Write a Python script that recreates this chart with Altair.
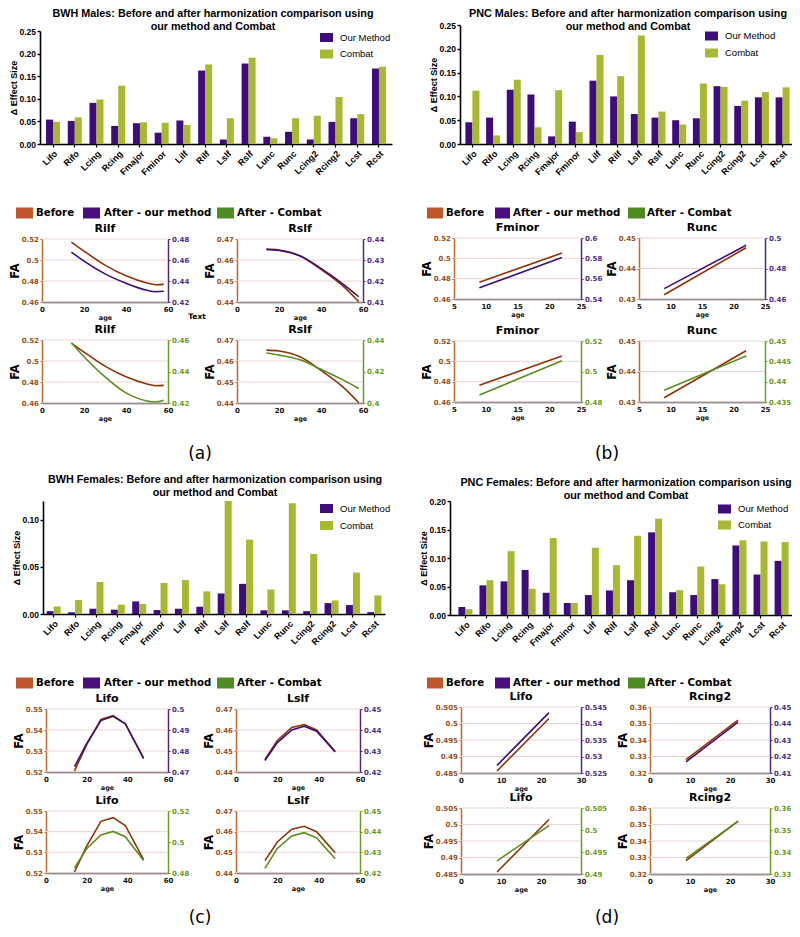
import altair as alt
import pandas as pd

# ---------------- data ----------------
TRACTS = ["Lifo", "Rifo", "Lcing", "Rcing", "Fmajor", "Fminor", "Lilf", "Rilf",
          "Lslf", "Rslf", "Lunc", "Runc", "Lcing2", "Rcing2", "Lcst", "Rcst"]

A_OUR = [0.054, 0.051, 0.091, 0.040, 0.046, 0.025, 0.052, 0.1625, 0.010, 0.178, 0.016, 0.027, 0.010, 0.049, 0.057, 0.167]
A_COMBAT = [0.049, 0.059, 0.0985, 0.129, 0.048, 0.047, 0.042, 0.176, 0.057, 0.191, 0.0125, 0.057, 0.0625, 0.104, 0.066, 0.171]
B_OUR = [0.0456, 0.0555, 0.114, 0.104, 0.016, 0.047, 0.133, 0.100, 0.063, 0.0555, 0.050, 0.054, 0.1215, 0.080, 0.098, 0.098]
B_COMBAT = [0.112, 0.018, 0.135, 0.035, 0.113, 0.025, 0.187, 0.1425, 0.228, 0.068, 0.041, 0.127, 0.120, 0.091, 0.109, 0.119]
C_OUR = [0.003, 0.0018, 0.0056, 0.0046, 0.0134, 0.0042, 0.0056, 0.0077, 0.0218, 0.032, 0.0039, 0.0039, 0.003, 0.0116, 0.0095, 0.002]
C_COMBAT = [0.008, 0.0148, 0.034, 0.010, 0.0106, 0.033, 0.036, 0.024, 0.120, 0.079, 0.026, 0.1176, 0.0637, 0.0144, 0.044, 0.0197]
D_OUR = [0.014, 0.052, 0.059, 0.079, 0.039, 0.021, 0.035, 0.043, 0.061, 0.145, 0.040, 0.035, 0.063, 0.122, 0.071, 0.095]
D_COMBAT = [0.010, 0.061, 0.112, 0.046, 0.135, 0.021, 0.118, 0.0876, 0.139, 0.169, 0.0435, 0.085, 0.054, 0.131, 0.129, 0.128]

BAR_TICKS_25 = [0.0, 0.05, 0.10, 0.15, 0.20, 0.25]
BAR_TICKS_12 = [0.0, 0.05, 0.10]
BAR_TICKS_20 = [0.0, 0.05, 0.10, 0.15, 0.20]

# (a) BWH males fitted trajectories
AGE_A_RILF = [14, 20, 30, 40, 50, 54, 58]
RILF_BEFORE = [0.5171, 0.5085, 0.4951, 0.4849, 0.4781, 0.4765, 0.4768]
RILF_OUR = [0.4676, 0.4589, 0.4468, 0.4379, 0.4312, 0.4298, 0.4302]
RILF_COMBAT = [0.4583, 0.4494, 0.4366, 0.4264, 0.4213, 0.4206, 0.4217]
AGE_A_RSLF = [14, 20, 30, 40, 50, 58]
RSLF_BEFORE = [0.4652, 0.4648, 0.4620, 0.4555, 0.4480, 0.4401]
RSLF_OUR = [0.4350, 0.4345, 0.4319, 0.4260, 0.4189, 0.4125]
RSLF_COMBAT = [0.4317, 0.4304, 0.4274, 0.4214, 0.4150, 0.4092]

# (b) PNC males
AGE_PNC = [9, 22]
FMINOR_BEFORE = [0.4765, 0.5052]
FMINOR_OUR = [0.5511, 0.5807]
FMINOR_COMBAT = [0.4846, 0.5070]
RUNC_BEFORE = [0.4314, 0.4468]
RUNC_OUR = [0.4668, 0.4952]
RUNC_COMBAT = [0.4379, 0.4463]

# (c) BWH females
AGE_C = [14, 20, 27, 33, 39, 48]
LIFO_C_BEFORE = [0.5205, 0.5330, 0.5450, 0.5468, 0.5430, 0.5265]
LIFO_C_OUR = [0.4725, 0.4835, 0.4945, 0.4965, 0.4930, 0.4765]
LIFO_C_COMBAT = [0.4832, 0.4957, 0.5045, 0.5068, 0.5034, 0.4881]
LSLF_C_BEFORE = [0.4460, 0.4550, 0.4612, 0.4626, 0.4600, 0.4498]
LSLF_C_OUR = [0.4255, 0.4340, 0.4400, 0.4418, 0.4394, 0.4296]
LSLF_C_COMBAT = [0.4222, 0.4319, 0.4379, 0.4395, 0.4370, 0.4269]

# (d) PNC females
LIFO_D_BEFORE = [0.4856, 0.5015]
LIFO_D_OUR = [0.5273, 0.5433]
LIFO_D_COMBAT = [0.4930, 0.5010]
RCING2_BEFORE = [0.3281, 0.3521]
RCING2_OUR = [0.4167, 0.4409]
RCING2_COMBAT = [0.3371, 0.3539]

# ---------------- style ----------------
W, H = 784, 921
OUR_BAR = "#3F0C7C"
COMBAT_BAR = "#A9B832"
BROWN_LINE = "#8E3308"
PURPLE_LINE = "#3C0F70"
GREEN_LINE = "#5C8C20"
SW_BEFORE = "#C1552B"
SW_OUR = "#4A0E7E"
SW_COMBAT = "#4F8B23"
L_AXIS = "#C0692F"
L_LABEL = "#9A4F1A"
P_AXIS = "#4B2A80"
P_LABEL = "#512E7D"
G_AXIS = "#6B9B2A"
G_LABEL = "#6B9A22"
GRID = "#EBD3D3"
BAR_FONT = "Liberation Sans"
LINE_FONT = "DejaVu Sans"
NUM_LABEL = "format(datum.value, '~r')"

DUMMY = pd.DataFrame({"d": [0]})


def X(x):
    return x - 8


def Y(y):
    return y - 8


layers = []


def text(s, x, y, size=10, weight="bold", font=LINE_FONT, color="black", align="center", angle=0):
    layers.append(
        alt.Chart(DUMMY).mark_text(text=s, fontSize=size, fontWeight=weight, font=font, color=color,
                                   align=align, baseline="middle", angle=angle)
        .encode(x=alt.value(X(x)), y=alt.value(Y(y)))
    )


def rect(x0, x1, y0, y1, color):
    layers.append(
        alt.Chart(DUMMY).mark_rect(color=color)
        .encode(x=alt.value(X(x0)), x2=alt.value(X(x1)), y=alt.value(Y(y0)), y2=alt.value(Y(y1)))
    )


def bar_panel(title1, title2, tx, ty, our, comb, ymax, yticks, x0, x1, ytop, ybase, pad, lx, ly1, ly2):
    df = pd.DataFrame({"cat": TRACTS, "our": our, "comb": comb})
    xs = alt.Scale(domain=TRACTS, range=[X(x0), X(x1)], paddingInner=0, paddingOuter=pad)
    ys = alt.Scale(domain=[0, ymax], range=[Y(ybase), Y(ytop)], nice=False, zero=True)
    xaxis = alt.Axis(orient="bottom", offset=Y(ybase) - H, labelAngle=315, labelAlign="right",
                     labelBaseline="top", labelFont=BAR_FONT, labelFontWeight="bold", labelFontSize=9,
                     labelColor="black", domainColor="black", domainWidth=1.6, tickColor="black",
                     tickSize=3, tickWidth=1.2, labelPadding=2, title=None, grid=False, labelOverlap=False)
    yaxis = alt.Axis(orient="left", offset=-X(x0), values=yticks, format=".2f", labelFont=BAR_FONT,
                     labelFontWeight="bold", labelFontSize=8.5, labelColor="black", domainColor="black",
                     domainWidth=1.6, tickColor="black", tickSize=3, tickWidth=1.4, labelPadding=1.5,
                     title="\u0394 Effect Size", titleFont=BAR_FONT, titleFontWeight="bold", titleFontSize=9,
                     titleColor="black", titlePadding=0, grid=False, labelFlush=False)
    layers.append(
        alt.Chart(df).mark_bar(width=7, xOffset=-3.5, color=OUR_BAR).encode(
            x=alt.X("cat:N", scale=xs, sort=None, axis=xaxis),
            y=alt.Y("our:Q", scale=ys, axis=yaxis))
    )
    layers.append(
        alt.Chart(df).mark_bar(width=7, xOffset=3.5, color=COMBAT_BAR).encode(
            x=alt.X("cat:N", scale=xs, sort=None, axis=None),
            y=alt.Y("comb:Q", scale=ys, axis=None))
    )
    text(title1, tx, ty, size=10.8, font=BAR_FONT)
    text(title2, tx, ty + 12.7, size=10.8, font=BAR_FONT)
    rect(lx, lx + 13, ly1 - 4.5, ly1 + 4.5, OUR_BAR)
    rect(lx, lx + 13, ly2 - 4.5, ly2 + 4.5, COMBAT_BAR)
    text("Our Method", lx + 20, ly1, size=9.5, weight="normal", font=BAR_FONT, align="left")
    text("Combat", lx + 20, ly2, size=9.5, weight="normal", font=BAR_FONT, align="left")


def line_plot(ages, before, after, kind, x0, x1, ytop, ybot, xdom, xticks, ldom, lticks, rdom, rticks,
              title, interp):
    xs = alt.Scale(domain=xdom, range=[X(x0), X(x1)], nice=False, zero=False)
    ls = alt.Scale(domain=ldom, range=[Y(ybot), Y(ytop)], nice=False, zero=False)
    rs = alt.Scale(domain=rdom, range=[Y(ybot), Y(ytop)], nice=False, zero=False)
    if kind == "our":
        acol, aaxis, alab = PURPLE_LINE, P_AXIS, P_LABEL
    else:
        acol, aaxis, alab = GREEN_LINE, G_AXIS, G_LABEL
    layers.append(
        alt.Chart(pd.DataFrame({"v": lticks})).mark_rule(color=GRID, strokeWidth=1).encode(
            y=alt.Y("v:Q", scale=ls, axis=None), x=alt.value(X(x0)), x2=alt.value(X(x1)))
    )
    xaxis = alt.Axis(orient="bottom", offset=Y(ybot) - H, values=xticks, labelExpr=NUM_LABEL,
                     labelFont=LINE_FONT, labelFontWeight="bold", labelFontSize=7, labelColor="#111",
                     domainColor="#444", domainWidth=1.5, ticks=False, labelPadding=3, labelFlush=False,
                     labelOverlap=False, title="age", titleFont=LINE_FONT, titleFontWeight="bold",
                     titleFontSize=6.5, titleColor="#111", titlePadding=2, grid=False)
    laxis = alt.Axis(orient="left", offset=-X(x0), values=lticks, labelExpr=NUM_LABEL, labelFont=LINE_FONT,
                     labelFontWeight="bold", labelFontSize=7, labelColor=L_LABEL, domainColor=L_AXIS,
                     domainWidth=1.5, tickColor=L_AXIS, tickSize=2, labelPadding=1.5, labelFlush=False,
                     labelOverlap=False, title="FA", titleFont=LINE_FONT, titleFontWeight="bold",
                     titleFontSize=11.5, titleColor="black", titlePadding=1, grid=False)
    raxis = alt.Axis(orient="right", offset=X(x1) - W, values=rticks, labelExpr=NUM_LABEL,
                     labelFont=LINE_FONT, labelFontWeight="bold", labelFontSize=7, labelColor=alab,
                     domainColor=aaxis, domainWidth=1.5, tickColor=aaxis, tickSize=2, labelPadding=1.5,
                     labelFlush=False, labelOverlap=False, title=None, grid=False)
    layers.append(
        alt.Chart(pd.DataFrame({"age": ages, "v": before})).mark_line(
            color=BROWN_LINE, strokeWidth=1.6, interpolate=interp).encode(
            x=alt.X("age:Q", scale=xs, axis=xaxis), y=alt.Y("v:Q", scale=ls, axis=laxis))
    )
    layers.append(
        alt.Chart(pd.DataFrame({"age": ages, "v": after})).mark_line(
            color=acol, strokeWidth=1.6, interpolate=interp).encode(
            x=alt.X("age:Q", scale=xs, axis=None), y=alt.Y("v:Q", scale=rs, axis=raxis))
    )
    text(title, (x0 + x1) / 2, ytop - 10, size=11)


def line_legend(xs_sw, xs_txt, y):
    cols = [SW_BEFORE, SW_OUR, SW_COMBAT]
    labels = ["Before", "After - our method", "After - Combat"]
    for (a, b), c in zip(xs_sw, cols):
        rect(a, b, y - 5.5, y + 5.5, c)
    for tx, lab in zip(xs_txt, labels):
        text(lab, tx, y, size=10.2, align="left")


# ---------------- panel (a) ----------------
bar_panel("BWH Males: Before and after harmonization comparison using", "our method and Combat",
          213, 14, A_OUR, A_COMBAT, 0.25, BAR_TICKS_25, 40, 392, 31, 144, 0.1, 320, 37.5, 54)
line_legend([(16, 33), (83, 100), (217, 234)], [36, 104, 237], 213)
line_plot(AGE_A_RILF, RILF_BEFORE, RILF_OUR, "our", 42, 168, 239, 302, [0, 60], [0, 20, 40, 60],
          [0.46, 0.52], [0.46, 0.48, 0.5, 0.52], [0.42, 0.48], [0.42, 0.44, 0.46, 0.48], "Rilf", "monotone")
line_plot(AGE_A_RSLF, RSLF_BEFORE, RSLF_OUR, "our", 237, 363, 239, 302, [0, 60], [0, 20, 40, 60],
          [0.44, 0.47], [0.44, 0.45, 0.46, 0.47], [0.41, 0.44], [0.41, 0.42, 0.43, 0.44], "Rslf", "monotone")
line_plot(AGE_A_RILF, RILF_BEFORE, RILF_COMBAT, "combat", 42, 168, 340, 403, [0, 60], [0, 20, 40, 60],
          [0.46, 0.52], [0.46, 0.48, 0.5, 0.52], [0.42, 0.46], [0.42, 0.44, 0.46], "Rilf", "monotone")
line_plot(AGE_A_RSLF, RSLF_BEFORE, RSLF_COMBAT, "combat", 237, 363, 340, 403, [0, 60], [0, 20, 40, 60],
          [0.44, 0.47], [0.44, 0.45, 0.46, 0.47], [0.40, 0.44], [0.4, 0.42, 0.44], "Rslf", "monotone")
text("Text", 197, 317, size=7.5)
text("(a)", 200, 454, size=17, weight="normal")

# ---------------- panel (b) ----------------
bar_panel("PNC Males: Before and after harmonization comparison using", "our method and Combat",
          628, 14, B_OUR, B_COMBAT, 0.25, BAR_TICKS_25, 460, 795, 25, 144, 0.1, 705, 36, 53)
line_legend([(427, 443), (495, 510), (628, 645)], [446, 513, 647], 213)
line_plot(AGE_PNC, FMINOR_BEFORE, FMINOR_OUR, "our", 454, 581, 238, 299, [5, 25], [5, 10, 15, 20, 25],
          [0.46, 0.52], [0.46, 0.48, 0.5, 0.52], [0.54, 0.60], [0.54, 0.56, 0.58, 0.6], "Fminor", "linear")
line_plot(AGE_PNC, RUNC_BEFORE, RUNC_OUR, "our", 639, 765, 238, 299, [5, 25], [5, 10, 15, 20, 25],
          [0.43, 0.45], [0.43, 0.44, 0.45], [0.46, 0.50], [0.46, 0.48, 0.5], "Runc", "linear")
line_plot(AGE_PNC, FMINOR_BEFORE, FMINOR_COMBAT, "combat", 454, 581, 341, 402, [5, 25], [5, 10, 15, 20, 25],
          [0.46, 0.52], [0.46, 0.48, 0.5, 0.52], [0.48, 0.52], [0.48, 0.5, 0.52], "Fminor", "linear")
line_plot(AGE_PNC, RUNC_BEFORE, RUNC_COMBAT, "combat", 639, 765, 341, 402, [5, 25], [5, 10, 15, 20, 25],
          [0.43, 0.45], [0.43, 0.44, 0.45], [0.435, 0.45], [0.435, 0.44, 0.445, 0.45], "Runc", "linear")
text("(b)", 607, 454, size=17, weight="normal")

# ---------------- panel (c) ----------------
bar_panel("BWH Females: Before and after harmonization comparison using", "our method and Combat",
          215, 480, C_OUR, C_COMBAT, 0.12, BAR_TICKS_12, 43, 385, 501, 614, 0.0, 320, 508.5, 525.5)
line_legend([(16, 33), (83, 100), (217, 234)], [36, 104, 237], 683)
line_plot(AGE_C, LIFO_C_BEFORE, LIFO_C_OUR, "our", 46, 168, 709, 772, [0, 60], [0, 20, 40, 60],
          [0.52, 0.55], [0.52, 0.53, 0.54, 0.55], [0.47, 0.50], [0.47, 0.48, 0.49, 0.5], "Lifo", "linear")
line_plot(AGE_C, LSLF_C_BEFORE, LSLF_C_OUR, "our", 236, 360, 709, 772, [0, 60], [0, 20, 40, 60],
          [0.44, 0.47], [0.44, 0.45, 0.46, 0.47], [0.42, 0.45], [0.42, 0.43, 0.44, 0.45], "Lslf", "linear")
line_plot(AGE_C, LIFO_C_BEFORE, LIFO_C_COMBAT, "combat", 46, 168, 811, 873, [0, 60], [0, 20, 40, 60],
          [0.52, 0.55], [0.52, 0.53, 0.54, 0.55], [0.48, 0.52], [0.48, 0.5, 0.52], "Lifo", "linear")
line_plot(AGE_C, LSLF_C_BEFORE, LSLF_C_COMBAT, "combat", 236, 360, 811, 873, [0, 60], [0, 20, 40, 60],
          [0.44, 0.47], [0.44, 0.45, 0.46, 0.47], [0.42, 0.45], [0.42, 0.43, 0.44, 0.45], "Lslf", "linear")
text("(c)", 200, 918, size=17, weight="normal")

# ---------------- panel (d) ----------------
bar_panel("PNC Females: Before and after harmonization comparison using", "our method and Combat",
          626, 483, D_OUR, D_COMBAT, 0.20, BAR_TICKS_20, 450, 797, 501, 615, 0.23, 718, 509, 525)
line_legend([(427, 443), (495, 510), (628, 645)], [446, 513, 647], 683)
line_plot(AGE_PNC, LIFO_D_BEFORE, LIFO_D_OUR, "our", 461, 581, 707, 773, [0, 30], [0, 10, 20, 30],
          [0.485, 0.505], [0.485, 0.49, 0.495, 0.5, 0.505], [0.525, 0.545],
          [0.525, 0.53, 0.535, 0.54, 0.545], "Lifo", "linear")
line_plot(AGE_PNC, RCING2_BEFORE, RCING2_OUR, "our", 650, 770, 707, 773, [0, 30], [0, 10, 20, 30],
          [0.32, 0.36], [0.32, 0.33, 0.34, 0.35, 0.36], [0.41, 0.45],
          [0.41, 0.42, 0.43, 0.44, 0.45], "Rcing2", "linear")
line_plot(AGE_PNC, LIFO_D_BEFORE, LIFO_D_COMBAT, "combat", 461, 581, 808, 874, [0, 30], [0, 10, 20, 30],
          [0.485, 0.505], [0.485, 0.49, 0.495, 0.5, 0.505], [0.49, 0.505],
          [0.49, 0.495, 0.5, 0.505], "Lifo", "linear")
line_plot(AGE_PNC, RCING2_BEFORE, RCING2_COMBAT, "combat", 650, 770, 808, 874, [0, 30], [0, 10, 20, 30],
          [0.32, 0.36], [0.32, 0.33, 0.34, 0.35, 0.36], [0.33, 0.36],
          [0.33, 0.34, 0.35, 0.36], "Rcing2", "linear")
text("(d)", 607, 918, size=17, weight="normal")

chart = (
    alt.layer(*layers)
    .properties(width=W, height=H, padding=0, autosize=alt.AutoSizeParams(type="none"), background="white")
    .resolve_scale(x="independent", y="independent")
    .resolve_axis(x="independent", y="independent")
    .configure_view(stroke=None)
)

chart.save("out.html", embed_options={"renderer": "svg", "actions": False})
